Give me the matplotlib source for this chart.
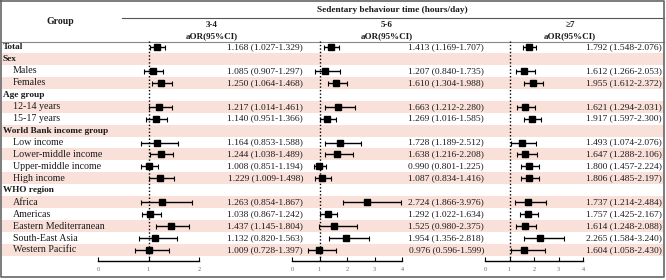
import numpy as np
import matplotlib
matplotlib.use('Agg')
import matplotlib.pyplot as plt

plt.rcParams['font.family'] = ['Liberation Serif', 'DejaVu Serif']

# rows of the table
labels = ['Total', 'Sex', 'Males', 'Females', 'Age group', '12-14 years', '15-17 years',
          'World Bank income group', 'Low income', 'Lower-middle income',
          'Upper-middle income', 'High income', 'WHO region', 'Africa', 'Americas',
          'Eastern Mediterranean', 'South-East Asia', 'Western Pacific']
headers = ['Total', 'Sex', 'Age group', 'World Bank income group', 'WHO region']

# aOR (95%CI) for each sedentary time group, None = heading row
or_34 = [1.168, None, 1.085, 1.250, None, 1.217, 1.140, None, 1.164, 1.244, 1.008, 1.229,
         None, 1.263, 1.038, 1.437, 1.132, 1.009]
lo_34 = [1.027, None, 0.907, 1.064, None, 1.014, 0.951, None, 0.853, 1.038, 0.851, 1.009,
         None, 0.854, 0.867, 1.145, 0.820, 0.728]
hi_34 = [1.329, None, 1.297, 1.468, None, 1.461, 1.366, None, 1.588, 1.489, 1.194, 1.498,
         None, 1.867, 1.242, 1.804, 1.563, 1.397]

or_56 = [1.413, None, 1.207, 1.610, None, 1.663, 1.269, None, 1.728, 1.638, 0.990, 1.087,
         None, 2.724, 1.292, 1.525, 1.954, 0.976]
lo_56 = [1.169, None, 0.840, 1.304, None, 1.212, 1.016, None, 1.189, 1.216, 0.801, 0.834,
         None, 1.866, 1.022, 0.980, 1.356, 0.596]
hi_56 = [1.707, None, 1.735, 1.988, None, 2.280, 1.585, None, 2.512, 2.208, 1.225, 1.416,
         None, 3.976, 1.634, 2.375, 2.818, 1.599]

or_7 = [1.792, None, 1.612, 1.955, None, 1.621, 1.917, None, 1.493, 1.647, 1.800, 1.806,
        None, 1.737, 1.757, 1.614, 2.265, 1.604]
lo_7 = [1.548, None, 1.266, 1.612, None, 1.294, 1.597, None, 1.074, 1.288, 1.457, 1.485,
        None, 1.214, 1.425, 1.248, 1.584, 1.058]
hi_7 = [2.076, None, 2.053, 2.372, None, 2.031, 2.300, None, 2.076, 2.106, 2.224, 2.197,
        None, 2.484, 2.167, 2.088, 3.240, 2.430]

col_titles = ['3-4', '5-6', '\u22657']
col_ticks = [[0, 1, 2], [0, 1, 2, 3, 4], [0, 1, 2, 3, 4]]

W, H = 666, 280
fig = plt.figure(figsize=(W / 100, H / 100), dpi=100)
bg = fig.add_axes([0, 0, 1, 1])
bg.set_xlim(0, W)
bg.set_ylim(H, 0)
bg.axis('off')

txt = '#1a1a1a'
pink = '#f9e1d9'
row0, rowh = 47, 11.94
n = len(labels)

# striped rows
for i in range(n):
    yc = row0 + i * rowh
    if i % 2 == 1:
        bg.axhspan(yc - rowh / 2, yc + rowh / 2, xmin=1.5 / W, xmax=664 / W, color=pink, lw=0)
    if labels[i] in headers:
        bg.text(3, yc, labels[i], fontsize=6.7, fontweight='bold', va='center', color=txt)
    else:
        bg.text(13, yc, labels[i], fontsize=7.2, va='center', color=txt)

# header
bg.text(60, 22, 'Group', fontsize=7, fontweight='bold', ha='center', va='center', color=txt)
bg.text(392, 10, 'Sedentary behaviour time (hours/day)', fontsize=6.7, fontweight='bold',
        ha='center', va='center', color=txt)
head_x = [212, 387, 570]
for hx, t in zip(head_x, col_titles):
    bg.text(hx, 25, t, fontsize=6.5, fontweight='bold', ha='center', va='center', color=txt)
    bg.text(hx, 36, 'aOR(95%CI)', fontsize=6.5, fontweight='bold', ha='center', va='center', color=txt)

bg.plot([122, 664], [18, 18], color='#555555', lw=0.8)
bg.plot([1, 664], [41.5, 41.5], color='#888888', lw=0.8)
# border
bg.plot([1, 664, 664, 1, 1], [1, 1, 277, 277, 1], color='#666666', lw=1.2)

# forest panels
panels = [(98, 101, (0, 2), or_34, lo_34, hi_34, 303),
          (292, 110, (0, 4), or_56, lo_56, hi_56, 484),
          (485, 98, (0, 4), or_7, lo_7, hi_7, 662)]
y_top, y_bot = 41, 261
for k, (x0, w, xl, est, lo, hi, tx) in enumerate(panels):
    ax = fig.add_axes([x0 / W, (H - y_bot) / H, w / W, (y_bot - y_top) / H])
    ax.patch.set_alpha(0)
    ax.set_xlim(*xl)
    ax.set_ylim((y_bot - row0) / rowh, (y_top - row0) / rowh)
    idx = [i for i in range(n) if est[i] is not None]
    e = np.array([est[i] for i in idx])
    l = np.array([lo[i] for i in idx])
    h = np.array([hi[i] for i in idx])
    ax.errorbar(e, idx, xerr=[e - l, h - e], fmt='s', color='black', ms=4,
                elinewidth=1.0, capsize=1.8, capthick=0.8)
    ax.axvline(1, color='black', ls=(0, (1, 1.5)), lw=1.0)
    for s in ['top', 'left', 'right']:
        ax.spines[s].set_visible(False)
    ax.spines['bottom'].set_bounds(*xl)
    ax.spines['bottom'].set_linewidth(1.0)
    ax.set_yticks([])
    ax.set_xticks(col_ticks[k])
    ax.tick_params(axis='x', direction='in', length=3, width=0.8, labelsize=4.5,
                   labelcolor='#666666', pad=4)
    for i in idx:
        yc = row0 + i * rowh
        bg.text(tx, yc, '%.3f (%.3f-%.3f)' % (est[i], lo[i], hi[i]), fontsize=6.8,
                ha='right', va='center', color=txt)

fig.savefig('out.png', dpi=100)
